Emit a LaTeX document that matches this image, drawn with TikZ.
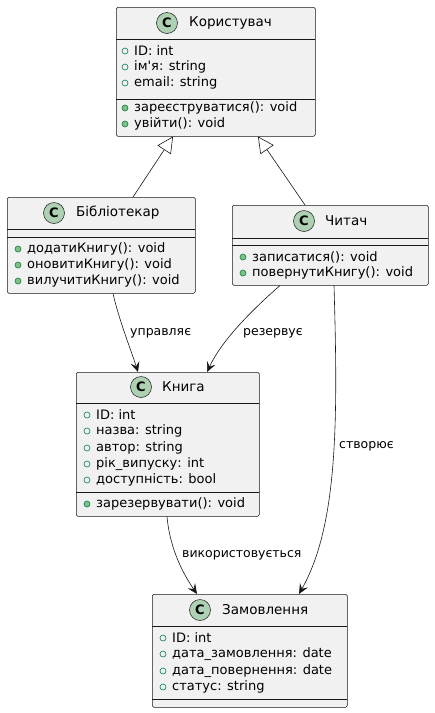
\documentclass[tikz,border=0pt]{standalone}
\usepackage{fontspec}
\setmainfont{DejaVu Sans}
\usetikzlibrary{arrows.meta,calc}
\definecolor{boxfill}{HTML}{F1F1F1}
\definecolor{boxline}{HTML}{181818}
\definecolor{cfill}{HTML}{ADD1B2}
\definecolor{visgreen}{HTML}{038048}
\definecolor{visfill}{HTML}{84BE84}
\tikzset{
  umlbox/.style={draw=boxline, fill=boxfill, line width=0.5pt, rounded corners=1.5pt, anchor=north west, inner sep=0pt},
  divider/.style={draw=boxline, line width=0.5pt},
  cmark/.style={circle, draw=boxline, fill=cfill, line width=0.5pt, minimum size=21pt, inner sep=0pt, font=\fontsize{13}{13}\selectfont\bfseries},
  title/.style={anchor=west, inner sep=0pt, font=\fontsize{13.5}{16}\selectfont},
  member/.style={anchor=west, inner sep=0pt, font=\fontsize{13}{16}\selectfont},
  fieldmark/.style={circle, draw=visgreen, line width=0.6pt, minimum size=6pt, inner sep=0pt},
  methmark/.style={circle, draw=visgreen, fill=visfill, line width=0.6pt, minimum size=6pt, inner sep=0pt},
  lbl/.style={anchor=west, inner sep=0pt, font=\fontsize{12.5}{15}\selectfont},
  assoc/.style={draw=boxline, line width=0.6pt, -{Stealth[length=10pt,width=9pt,inset=4pt]}},
  inherit/.style={draw=boxline, line width=0.6pt, -{Triangle[open,length=16pt,width=16pt]}},
}
\newcommand{\fieldrow}[4]{\node[fieldmark] (#1) at (#2,#3) {}; \node[member] (#1t) at (#2+9,#3) {#4};}
\newcommand{\methrow}[4]{\node[methmark] (#1) at (#2,#3) {}; \node[member] (#1t) at (#2+9,#3) {#4};}
\begin{document}
\begin{tikzpicture}[x=1pt,y=-1pt]
\useasboundingbox (0,0) rectangle (435,713);
\fill[white] (0,0) rectangle (435,713);

% ---------- Користувач
\node[umlbox, minimum width=199pt, minimum height=129pt] (user) at (116,7) {};
\draw[divider] (116,39) -- (315,39);
\draw[divider] (116,99) -- (315,99);
\node[cmark] (userc) at (167,23) {C};
\node[title] (usern) at (189,23) {Користувач};
\fieldrow{u1}{125}{51}{ID: int}
\fieldrow{u2}{125}{67}{ім\textquotesingle я: string}
\fieldrow{u3}{125}{83}{email: string}
\methrow{u4}{125}{108}{зареєструватися(): void}
\methrow{u5}{125}{124}{увійти(): void}

% ---------- Бібліотекар
\node[umlbox, minimum width=188pt, minimum height=96pt] (lib) at (7,197) {};
\draw[divider] (7,229) -- (195,229);
\draw[divider] (7,237) -- (195,237);
\node[cmark] (libc) at (54,213) {C};
\node[title] (libn) at (76,213) {Бібліотекар};
\methrow{l1}{18}{249}{додатиКнигу(): void}
\methrow{l2}{18}{265}{оновитиКнигу(): void}
\methrow{l3}{18}{281}{вилучитиКнигу(): void}

% ---------- Читач
\node[umlbox, minimum width=196pt, minimum height=80pt] (reader) at (232,205) {};
\draw[divider] (232,238) -- (428,238);
\draw[divider] (232,245) -- (428,245);
\node[cmark] (readerc) at (304,221) {C};
\node[title] (readern) at (325,221) {Читач};
\methrow{r1}{243}{257}{записатися(): void}
\methrow{r2}{243}{273}{повернутиКнигу(): void}

% ---------- Книга
\node[umlbox, minimum width=183pt, minimum height=144pt] (book) at (76,372) {};
\draw[divider] (76,403) -- (259,403);
\draw[divider] (76,492) -- (259,492);
\node[cmark] (bookc) at (141,387) {C};
\node[title] (bookn) at (162,387) {Книга};
\fieldrow{b1}{87}{415}{ID: int}
\fieldrow{b2}{87}{431}{назва: string}
\fieldrow{b3}{87}{448}{автор: string}
\fieldrow{b4}{87}{464}{рік\_випуску: int}
\fieldrow{b5}{87}{480}{доступність: bool}
\methrow{b6}{87}{504}{зарезервувати(): void}

% ---------- Замовлення
\node[umlbox, minimum width=195pt, minimum height=113pt] (order) at (152,594) {};
\draw[divider] (152,626) -- (347,626);
\draw[divider] (152,699) -- (347,699);
\node[cmark] (orderc) at (200,610) {C};
\node[title] (ordern) at (222,610) {Замовлення};
\fieldrow{o1}{163}{638}{ID: int}
\fieldrow{o2}{163}{654}{дата\_замовлення: date}
\fieldrow{o3}{163}{671}{дата\_повернення: date}
\fieldrow{o4}{163}{687}{статус: string}

% ---------- connectors
\coordinate (lib-top) at ($(lib.north west)+(126,0)$);
\coordinate (user-l) at ($(user.south west)+(57,0)$);
\coordinate (reader-top) at ($(reader.north west)+(73,0)$);
\coordinate (user-r) at ($(user.south west)+(142,0)$);
\draw[inherit] (lib-top) -- (user-l);
\draw[inherit] (reader-top) -- (user-r);

\coordinate (lib-bot) at ($(lib.south west)+(106,0)$);
\coordinate (book-l) at ($(book.north west)+(62,0)$);
\draw[assoc] (lib-bot) .. controls (119,320) and (131,350) .. (book-l);
\node[lbl] (l-manage) at (130,333) {управляє};

\coordinate (reader-bl) at ($(reader.south west)+(48,0)$);
\coordinate (book-r) at ($(book.north west)+(131,0)$);
\draw[assoc] (reader-bl) .. controls (252,310) and (222,340) .. (book-r);
\node[lbl] (l-reserve) at (243,333) {резервує};

\coordinate (reader-br) at ($(reader.south west)+(102,0)$);
\coordinate (order-r) at ($(order.north west)+(147,0)$);
\draw[assoc] (reader-br) .. controls (338,420) and (338,525) .. (order-r);
\node[lbl] (l-create) at (339,446) {створює};

\coordinate (book-bot) at ($(book.south west)+(91,0)$);
\coordinate (order-l) at ($(order.north west)+(45,0)$);
\draw[assoc] (book-bot) .. controls (170,550) and (184,575) .. (order-l);
\node[lbl] (l-use) at (182,555) {використовується};
\end{tikzpicture}
\end{document}
